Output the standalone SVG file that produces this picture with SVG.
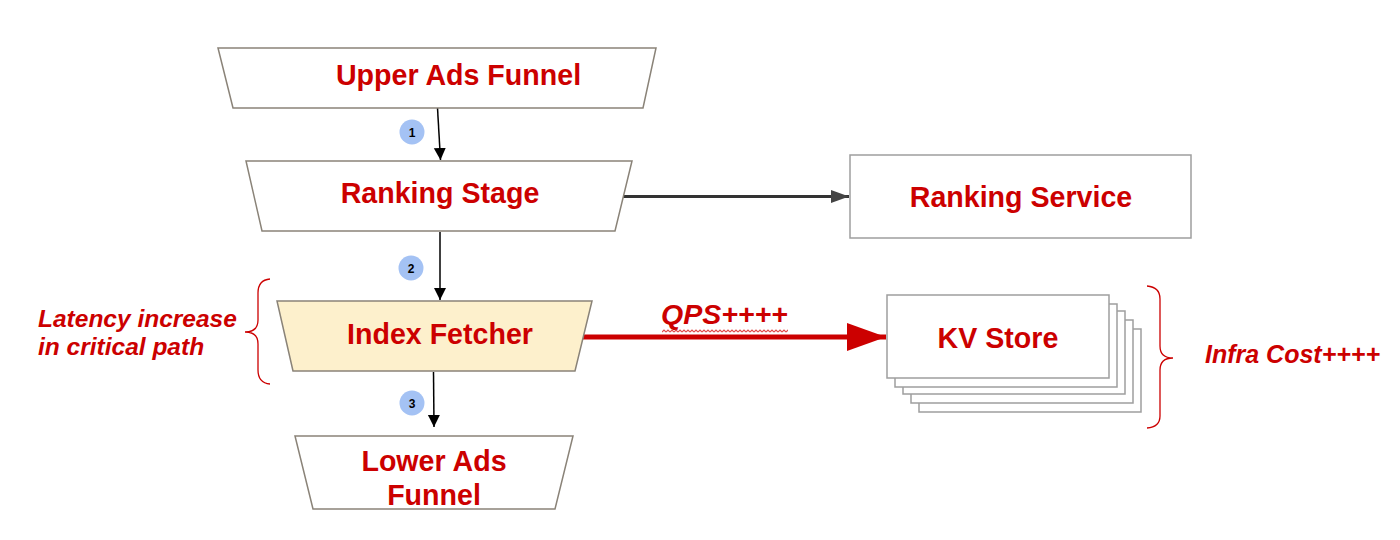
<svg xmlns="http://www.w3.org/2000/svg" width="1400" height="540" viewBox="0 0 1400 540">
<style>
.bg{fill:#ffffff}
.trap{fill:#ffffff;stroke:#8a8378;stroke-width:1.5}
.trapY{fill:#fdf0cc;stroke:#8a8378;stroke-width:1.5}
.box{fill:#ffffff;stroke:#9e9e9e;stroke-width:1.5}
.lbl{font-family:"Liberation Sans",Arial,sans-serif;font-weight:bold;fill:#cc0000;text-anchor:middle;font-size:28.6px}
.note{font-family:"Liberation Sans",Arial,sans-serif;font-weight:bold;font-style:italic;fill:#cc0000}
.badge{fill:#a4c2f4}
.bnum{font-family:"Liberation Sans",Arial,sans-serif;font-weight:bold;font-size:12px;fill:#000000;text-anchor:middle}
.flow{stroke:#000000;stroke-width:1.5;fill:none}
.brace{stroke:#cc0000;stroke-width:1.3;fill:none}
</style>
<defs>
<marker id="ah" markerUnits="userSpaceOnUse" markerWidth="12" markerHeight="14" refX="12" refY="6" orient="auto">
<path d="M0,0 L12,6 L0,12 Z" fill="#000000"/>
</marker>
<marker id="ahg" markerUnits="userSpaceOnUse" markerWidth="18" markerHeight="14" refX="18" refY="6.5" orient="auto">
<path d="M0,0 L18,6.5 L0,13 Z" fill="#444444"/>
</marker>
<marker id="ahr" markerUnits="userSpaceOnUse" markerWidth="40" markerHeight="30" refX="39" refY="14" orient="auto">
<path d="M0,0 L39,14 L0,28 Z" fill="#cc0000"/>
</marker>
<pattern id="wavy" patternUnits="userSpaceOnUse" x="662" y="329" width="4" height="4">
<path d="M0,3 L2,1 L4,3" stroke="#e04848" stroke-width="1.1" fill="none"/>
</pattern>
</defs>
<rect class="bg" x="0" y="0" width="1400" height="540"/>

<g id="connectors">
<line class="flow" x1="437.5" y1="108" x2="440.5" y2="160" marker-end="url(#ah)"/>
<line class="flow" x1="440" y1="232" x2="440" y2="300" marker-end="url(#ah)"/>
<line class="flow" x1="433.5" y1="372" x2="434" y2="427" marker-end="url(#ah)"/>
<line x1="622" y1="196.5" x2="849" y2="196.5" stroke="#333333" stroke-width="3" marker-end="url(#ahg)"/>
<line x1="583" y1="337" x2="886" y2="337" stroke="#cc0000" stroke-width="5" marker-end="url(#ahr)"/>
</g>

<g id="badge1"><circle class="badge" cx="412" cy="132" r="12.5"/><text class="bnum" x="412" y="136.5">1</text></g>
<g id="badge2"><circle class="badge" cx="411" cy="268" r="12.5"/><text class="bnum" x="411" y="272.5">2</text></g>
<g id="badge3"><circle class="badge" cx="412" cy="403" r="12.5"/><text class="bnum" x="412" y="407.5">3</text></g>

<g id="upper-ads-funnel">
<polygon class="trap" points="218,48 656,48 643,108 233,108"/>
<text class="lbl" x="458.5" y="85">Upper Ads Funnel</text>
</g>

<g id="ranking-stage">
<polygon class="trap" points="246,161 632,161 615,231 262,231"/>
<text class="lbl" x="440" y="203">Ranking Stage</text>
</g>

<g id="ranking-service">
<rect class="box" x="850" y="155" width="341" height="83"/>
<text class="lbl" x="1021" y="207">Ranking Service</text>
</g>

<g id="index-fetcher">
<polygon class="trapY" points="277,301 592,301 575,371 293,371"/>
<text class="lbl" x="440" y="344">Index Fetcher</text>
</g>

<g id="latency-note">
<path class="brace" d="M270,279 Q258,280 258,293 L258,320 Q258,332 245,332 Q258,332 258,344 L258,370 Q258,383 270,384"/>
<text class="note" x="38" y="327" font-size="24.5">Latency increase</text>
<text class="note" x="38" y="355" font-size="24.5">in critical path</text>
</g>

<g id="qps-label">
<text class="note" x="661" y="324" font-size="28.5">QPS++++</text>
<rect x="662" y="329" width="126" height="4" fill="url(#wavy)"/>
</g>

<g id="kv-store">
<rect class="box" x="919" y="329" width="222" height="83"/>
<rect class="box" x="911" y="320" width="222" height="83"/>
<rect class="box" x="903" y="311" width="222" height="83"/>
<rect class="box" x="895" y="304" width="222" height="83"/>
<rect class="box" x="887" y="295" width="222" height="83"/>
<text class="lbl" x="998" y="348">KV Store</text>
</g>

<g id="infra-note">
<path class="brace" d="M1147,286 Q1160,287 1160,299 L1160,346 Q1160,358 1173,358 Q1160,358 1160,370 L1160,416 Q1160,427 1147,428"/>
<text class="note" x="1205" y="363" font-size="25">Infra Cost++++</text>
</g>

<g id="lower-ads-funnel">
<polygon class="trap" points="295,436 573,436 555,509 313,509"/>
<text class="lbl" x="434" y="471">Lower Ads</text>
<text class="lbl" x="434" y="505">Funnel</text>
</g>
</svg>
